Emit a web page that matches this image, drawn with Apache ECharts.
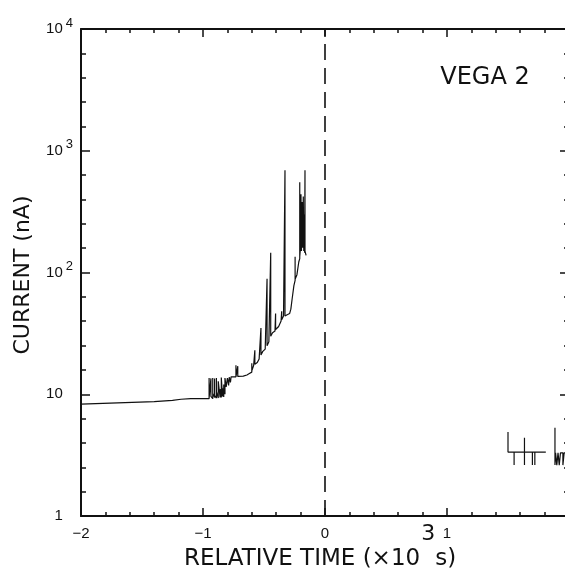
<!DOCTYPE html>
<html>
<head>
<meta charset="utf-8">
<script src="https://cdn.jsdelivr.net/npm/echarts@6/dist/echarts.min.js"></script>
<style>
  html, body { margin: 0; padding: 0; background: #fff; }
  #chart { width: 565px; height: 573px; }
</style>
</head>
<body>
<div id="chart"></div>
<script>
// relative time in 10^3 s, current in nA
const preTime = [
  -2.00, -1.70, -1.40, -1.25, -1.18, -1.10, -1.00, -0.95, -0.95, -0.95,
  -0.935, -0.935, -0.935, -0.92, -0.92, -0.92, -0.905, -0.905, -0.905, -0.89,
  -0.89, -0.89, -0.875, -0.875, -0.86, -0.86, -0.85, -0.85, -0.84, -0.84,
  -0.83, -0.83, -0.82, -0.82, -0.81, -0.80, -0.79, -0.785, -0.775, -0.77,
  -0.73, -0.73, -0.73, -0.715, -0.715, -0.715, -0.67, -0.64, -0.62, -0.60,
  -0.60, -0.60, -0.585, -0.575, -0.575, -0.575, -0.555, -0.54, -0.525, -0.525,
  -0.525, -0.51, -0.49, -0.475, -0.475, -0.475, -0.46, -0.445, -0.445, -0.445,
  -0.43, -0.41, -0.405, -0.405, -0.38, -0.36, -0.355, -0.355, -0.34, -0.328,
  -0.328, -0.328, -0.31, -0.29, -0.28, -0.27, -0.255, -0.245, -0.245, -0.245,
  -0.23, -0.215, -0.207, -0.207, -0.207, -0.20, -0.197, -0.193, -0.188, -0.183,
  -0.178, -0.174, -0.17, -0.167, -0.164, -0.164, -0.155
];
const preCurrent = [
  8.3, 8.5, 8.7, 8.9, 9.1, 9.2, 9.2, 9.2, 13.6, 9.3,
  9.0, 13.5, 9.6, 9.2, 13.6, 10.2, 9.4, 13.5, 9.8, 9.3,
  13.6, 10.5, 9.3, 12.8, 9.4, 11.0, 9.4, 13.7, 9.6, 11.2,
  9.5, 12.0, 10.0, 13.6, 11.5, 13.6, 11.8, 13.8, 12.5, 13.9,
  13.9, 17.3, 13.9, 13.9, 17.0, 14.0, 14.1, 14.4, 14.8, 15.2,
  18.0, 15.6, 17.2, 17.4, 23, 17.6, 18.2, 19.5, 20, 35,
  21, 22.5, 23.5, 24, 89, 25, 27, 28, 145, 30,
  32, 33, 46, 34, 36, 40, 48, 41, 44, 44,
  690, 44, 45, 46, 50, 60, 78, 86, 135, 88,
  96, 122, 130, 550, 135, 165, 440, 150, 380, 160,
  420, 150, 300, 145, 690, 150, 138
];
const postTime = [
  1.50, 1.50, 1.50, 1.55, 1.55, 1.55, 1.635, 1.635, 1.635, 1.635,
  1.70, 1.70, 1.70, 1.72, 1.72, 1.72, 1.81, 1.85, 1.885, 1.885,
  1.885, 1.89, 1.90, 1.91, 1.92, 1.93, 1.95, 1.95, 1.96, 2.00
];
const postCurrent = [
  3.35, 4.9, 3.35, 3.35, 2.62, 3.35, 3.35, 4.4, 2.62, 3.35,
  3.35, 2.62, 3.35, 3.35, 2.62, 3.35, 3.35, null, 3.3, 5.3,
  2.62, 3.3, 2.62, 3.3, 2.62, 3.3, 3.3, 2.62, 3.3, 3.3
];
// decade tick labels (log10 of current)
const decadeLabels = ['1', '10', '10{sup|2}', '10{sup|3}', '10{sup|4}'];
const closestApproach = 0;

const INK = '#111';
const TICK_FONT = 'Liberation Sans';

function toPoints(ts, cs) {
  return ts.map((t, i) => [t, cs[i] == null ? '-' : Math.log10(cs[i])]);
}

function frameX(position, showLabel) {
  return {
    type: 'value',
    position: position,
    min: -2,
    max: 2,
    interval: 1,
    axisLine: { show: true, onZero: false, lineStyle: { color: INK, width: 2 } },
    axisTick: { show: true, inside: true, length: 8, lineStyle: { color: INK, width: 1.5 } },
    minorTick: { show: true, splitNumber: 5, length: 4, lineStyle: { color: INK, width: 1.5 } },
    splitLine: { show: false },
    minorSplitLine: { show: false },
    axisLabel: {
      show: showLabel,
      margin: 10,
      color: INK,
      fontSize: 15,
      fontFamily: TICK_FONT,
      formatter: (v) => (v < 0 ? '\u2212' + Math.abs(v) : String(v)),
    },
  };
}

function frameY(position, showLabel) {
  return {
    type: 'value',
    position: position,
    min: 0,
    max: 4,
    interval: 1,
    axisLine: { show: true, onZero: false, lineStyle: { color: INK, width: 2 } },
    axisTick: { show: true, inside: true, length: 9, lineStyle: { color: INK, width: 1.5 } },
    minorTick: { show: true, splitNumber: 5, length: 5, lineStyle: { color: INK, width: 1.5 } },
    splitLine: { show: false },
    minorSplitLine: { show: false },
    axisLabel: {
      show: showLabel,
      margin: 8,
      color: INK,
      fontSize: 15,
      fontFamily: TICK_FONT,
      formatter: (v) => {
        const s = decadeLabels[Math.round(v)];
        return s.indexOf('{sup|') >= 0 ? s : s + '{ghost|0}';
      },
      rich: {
        sup: { fontSize: 13, fontFamily: TICK_FONT, color: INK, padding: [0, 0, 12, 3] },
        ghost: { fontSize: 13, fontFamily: TICK_FONT, color: 'transparent', padding: [0, 0, 12, 3] },
      },
    },
  };
}

const chart = echarts.init(document.getElementById('chart'));
chart.setOption({
  backgroundColor: '#fff',
  animation: false,
  grid: { left: 81, top: 29, width: 488, height: 487, containLabel: false, outerBoundsMode: 'none' },
  xAxis: [frameX('bottom', true), frameX('top', false)],
  yAxis: [frameY('left', true), frameY('right', false)],
  graphic: [
    {
      type: 'text',
      x: 23,
      y: 275,
      rotation: Math.PI / 2,
      style: {
        text: 'CURRENT (nA)',
        fill: INK,
        font: '22px "DejaVu Sans"',
        align: 'center',
        verticalAlign: 'middle',
      },
    },
    {
      type: 'text',
      x: 320,
      y: 559,
      style: {
        text: 'RELATIVE TIME (\u00d710{sup|3}s)',
        fill: INK,
        font: '23px "DejaVu Sans"',
        align: 'center',
        verticalAlign: 'middle',
        rich: {
          sup: { fontSize: 22, fontFamily: 'DejaVu Sans', fill: INK, padding: [0, 0, 50, 1] },
        },
      },
    },
    {
      type: 'text',
      x: 485,
      y: 78,
      style: {
        text: 'VEGA 2',
        fill: INK,
        font: '24px "DejaVu Sans"',
        align: 'center',
        verticalAlign: 'middle',
      },
    },
  ],
  series: [
    {
      name: 'before',
      type: 'line',
      data: toPoints(preTime, preCurrent),
      showSymbol: false,
      lineStyle: { color: INK, width: 1.2 },
      markLine: {
        silent: true,
        symbol: ['none', 'none'],
        label: { show: false },
        lineStyle: { color: INK, width: 1.6, type: [16, 8] },
        data: [{ xAxis: closestApproach }],
      },
    },
    {
      name: 'after',
      type: 'line',
      data: toPoints(postTime, postCurrent),
      showSymbol: false,
      connectNulls: false,
      lineStyle: { color: INK, width: 1.2 },
    },
  ],
});
</script>
</body>
</html>
